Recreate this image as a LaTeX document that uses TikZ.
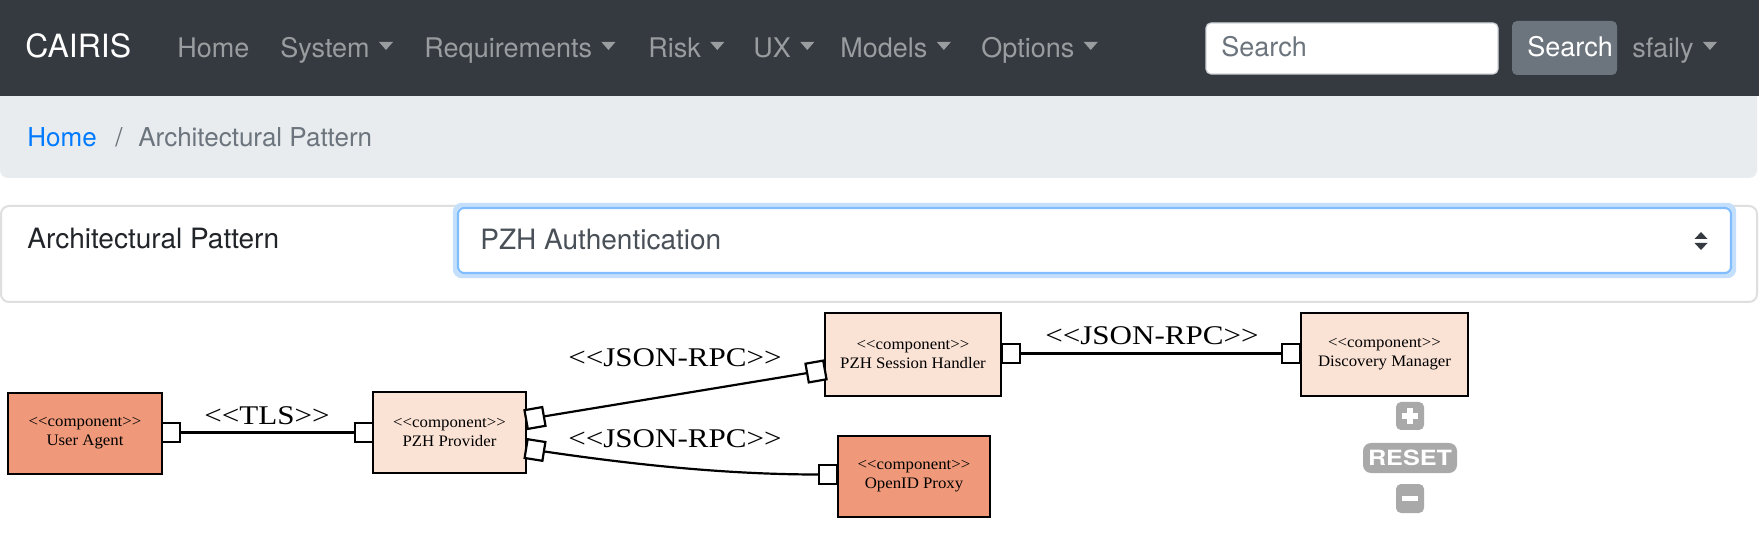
\documentclass[tikz,border=0pt]{standalone}
\usepackage{fontspec}
\usetikzlibrary{calc}
\setmainfont{TeX Gyre Heros}
\newfontfamily\tmfont{Liberation Serif}[FakeStretch=1.15,Ligatures=TeXOff]
\newfontfamily\cmfont{Liberation Serif}[FakeStretch=1.05,Ligatures=TeXOff]
\newfontfamily\rsfont{TeX Gyre Heros}[FakeStretch=1.2]
\definecolor{navbg}{HTML}{343A40}
\definecolor{navlink}{HTML}{9A9DA0}
\definecolor{bcbg}{HTML}{E9ECEF}
\definecolor{bsgray}{HTML}{6C757D}
\definecolor{bsblue}{HTML}{007BFF}
\definecolor{bsdark}{HTML}{212529}
\definecolor{seltext}{HTML}{495057}
\definecolor{selborder}{HTML}{80BDFF}
\definecolor{selglow}{HTML}{C4DFFC}
\definecolor{cardborder}{HTML}{DFDFDF}
\definecolor{inputborder}{HTML}{CED4DA}
\definecolor{compdark}{HTML}{EF997A}
\definecolor{complight}{HTML}{FAE2D5}
\definecolor{zoomgray}{HTML}{A9A9A9}
\newcommand\comptext[1]{\vbox{\baselineskip=9.5pt\halign{\hfil##\hfil\cr <<component>>\cr #1\cr}}}
\begin{document}
\begin{tikzpicture}[x=0.5pt,y=-0.5pt,
  navtxt/.style={anchor=base west,inner sep=0pt,text=navlink,font=\fontsize{13.5}{16}\selectfont},
  comp/.style={draw=black,line width=1.25pt,inner sep=0pt,font=\cmfont\fontsize{8}{9}\selectfont},
  compA/.style={comp,fill=compdark},
  compB/.style={comp,fill=complight},
  port/.style={draw=black,fill=white,line width=1.1pt,minimum width=9pt,minimum height=9.5pt,inner sep=0pt},
  conn/.style={draw=black,line width=1.1pt},
  lbl/.style={anchor=base,inner sep=0pt,font=\tmfont\fontsize{13.5}{15}\selectfont},
  zbtn/.style={fill=zoomgray,rounded corners=2.5pt,inner sep=0pt},
  glyph/.style={draw=white,line width=2.6pt}
]
\useasboundingbox (0,0) rectangle (1759,560);
\fill[white] (0,0) rectangle (1759,560);
% breadcrumb bar
\fill[bcbg,rounded corners=4pt] (0,80) rectangle (1757,178);
% navbar
\fill[navbg] (0,0) rectangle (1759,96);
\node[anchor=base west,inner sep=0pt,text=white,font=\fontsize{16}{19}\selectfont] (brand) at (25,58) {CAIRIS};
\node[navtxt] (nhome) at (177,58) {Home};
\node[navtxt] (nsys) at (280,58) {System};
\node[navtxt] (nreq) at (424,58) {Requirements};
\node[navtxt] (nrisk) at (648,58) {Risk};
\node[navtxt] (nux) at (753,58) {UX};
\node[navtxt] (nmod) at (840,58) {Models};
\node[navtxt] (nopt) at (981,58) {Options};
\node[navtxt] (nuser) at (1632,58) {sfaily};
\foreach \n in {nsys,nreq,nrisk,nux,nmod,nopt,nuser}{
  \fill[navlink] ($(\n.base east)+(9,-16)$) -- ++(14,0) -- ++(-7,8) -- cycle;
}
% search
\draw[inputborder,fill=white,rounded corners=2.5pt,line width=0.6pt] (1206,23) rectangle (1498,74);
\node[navtxt,text=bsgray] (splace) at (1221,57) {Search};
\fill[bsgray,rounded corners=2.5pt] (1512,21) rectangle (1617,75);
\node[navtxt,text=white] (sbtn) at (1527,57) {Search};
% breadcrumb text
\node[anchor=base west,inner sep=0pt,text=bsblue,font=\fontsize{13}{16}\selectfont] (bchome) at (27,147) {Home};
\node[anchor=base west,inner sep=0pt,text=bsgray,font=\fontsize{13}{16}\selectfont] (bcsep) at (115,147) {/};
\node[anchor=base west,inner sep=0pt,text=bsgray,font=\fontsize{13}{16}\selectfont] (bcpage) at (138,147) {Architectural Pattern};
% card
\draw[cardborder,line width=1pt,rounded corners=4pt] (1,206) rectangle (1757,302);
\node[anchor=base west,inner sep=0pt,text=bsdark,font=\fontsize{14}{17}\selectfont] (cardlbl) at (27,249) {Architectural Pattern};
\draw[selglow,line width=2.2pt,rounded corners=3.5pt] (455,205) rectangle (1734,276);
\draw[selborder,fill=white,line width=1.1pt,rounded corners=3pt] (458,208) rectangle (1731,273);
\node[anchor=base west,inner sep=0pt,text=seltext,font=\fontsize{14}{17}\selectfont] (seltxt) at (480,250) {PZH Authentication};
\fill[navbg] (1694.5,239) -- (1707.5,239) -- (1701,232) -- cycle;
\fill[navbg] (1694.5,243) -- (1707.5,243) -- (1701,250) -- cycle;
% components
\node[compA,minimum width=77pt,minimum height=40.5pt] (ua) at (85,433.5) {\comptext{User Agent}};
\node[compB,minimum width=76.5pt,minimum height=40.5pt] (pp) at (449.5,432.5) {\comptext{PZH Provider}};
\node[compB,minimum width=88pt,minimum height=41.5pt] (sh) at (913,354.5) {\comptext{PZH Session Handler}};
\node[compB,minimum width=83.5pt,minimum height=41.5pt] (dm) at (1384.5,354.5) {\comptext{Discovery Manager}};
\node[compA,minimum width=76pt,minimum height=40.5pt] (op) at (914,476.5) {\comptext{OpenID Proxy}};
% ports
\node[port] (pua) at (171,432.5) {};
\node[port] (ppl) at (364,432.5) {};
\node[port,rotate=10] (ppu) at (535,418) {};
\node[port,rotate=-9] (ppd) at (535,450) {};
\node[port,rotate=10] (shl) at (816,371.5) {};
\node[port] (shr) at (1011,353.5) {};
\node[port] (dml) at (1291,353.5) {};
\node[port] (opl) at (828,474.5) {};
% connectors
\draw[conn] (pua.east) -- (ppl.west);
\draw[conn] (ppu.east) -- (shl.west);
\draw[conn] (shr.east) -- (dml.west);
\draw[conn] (ppd.east) .. controls +(75,11) and +(-100,0) .. (opl.west);
% labels
\node[lbl] (ltls) at (267,425) {<<TLS>>};
\node[lbl] (lj1) at (675,367) {<<JSON-RPC>>};
\node[lbl] (lj2) at (675,447) {<<JSON-RPC>>};
\node[lbl] (lj3) at (1152,345) {<<JSON-RPC>>};
% zoom controls
\node[zbtn,minimum width=14pt,minimum height=14pt] (zin) at (1410,416) {};
\draw[glyph] ($(zin.center)+(-8,0)$) -- ($(zin.center)+(8,0)$);
\draw[glyph] ($(zin.center)+(0,-8)$) -- ($(zin.center)+(0,8)$);
\node[zbtn,rounded corners=4pt,minimum width=47pt,minimum height=15pt,text=white,font=\rsfont\bfseries\fontsize{10.5}{12}\selectfont] (zreset) at (1410,458) {RESET};
\node[zbtn,minimum width=14pt,minimum height=14.5pt] (zout) at (1410,498.5) {};
\draw[glyph] ($(zout.center)+(-8,0)$) -- ($(zout.center)+(8,0)$);
\end{tikzpicture}
\end{document}
